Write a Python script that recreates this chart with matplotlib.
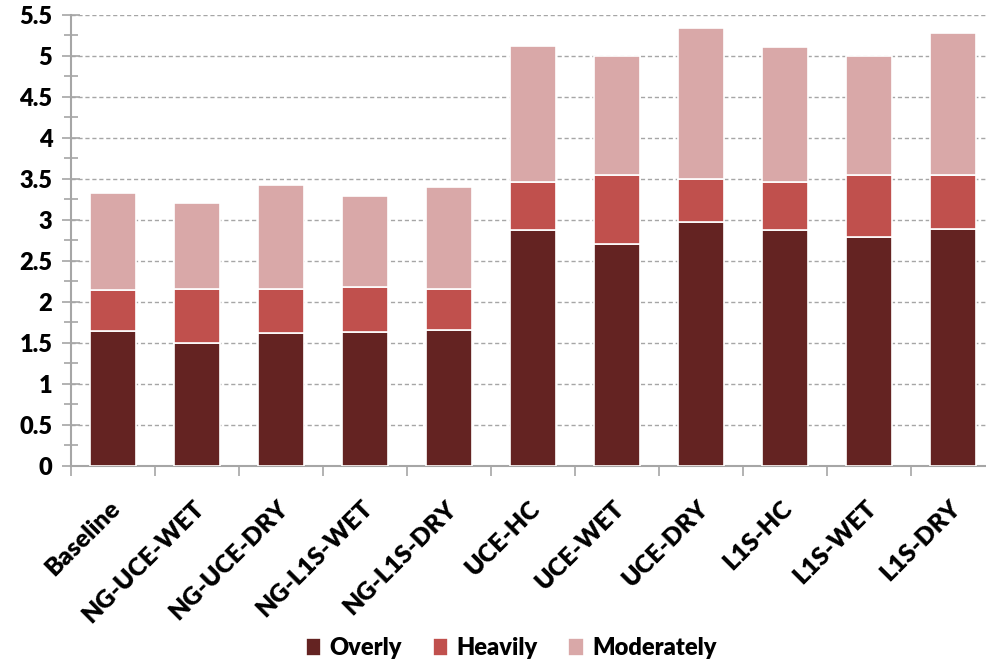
import numpy as np
import matplotlib.pyplot as plt
from matplotlib.ticker import MultipleLocator
from matplotlib.transforms import ScaledTranslation

categories = ["Baseline", "NG-UCE-WET", "NG-UCE-DRY", "NG-L1S-WET", "NG-L1S-DRY",
              "UCE-HC", "UCE-WET", "UCE-DRY", "L1S-HC", "L1S-WET", "L1S-DRY"]
overly = [1.65, 1.50, 1.62, 1.63, 1.66, 2.88, 2.70, 2.97, 2.88, 2.79, 2.89]
heavily = [0.49, 0.66, 0.54, 0.55, 0.50, 0.58, 0.85, 0.53, 0.58, 0.75, 0.65]
moderately = [1.19, 1.05, 1.26, 1.11, 1.24, 1.66, 1.44, 1.84, 1.64, 1.45, 1.73]
ytick_labels = ['0', '0.5', '1', '1.5', '2', '2.5', '3', '3.5', '4', '4.5', '5', '5.5']

colors = ["#642322", "#c0504d", "#d9a8a8"]
names = ["Overly", "Heavily", "Moderately"]

plt.rcParams['font.family'] = ['Lato', 'DejaVu Sans']

fig = plt.figure(figsize=(9.87, 6.61), dpi=100)
ax = fig.add_axes([0.072, 0.295, 0.936, 0.683])

x = np.arange(len(categories))
bottom = np.zeros(len(categories))
handles = []
for vals, c, n in zip([overly, heavily, moderately], colors, names):
    b = ax.bar(x, vals, width=0.555, bottom=bottom, color=c, edgecolor='white',
               linewidth=1.2, label=n, zorder=3)
    handles.append(b)
    bottom += np.array(vals)

ax.set_xlim(-0.5, len(categories) - 0.5)
ax.set_ylim(0, 5.5)
ax.yaxis.set_minor_locator(MultipleLocator(0.25))
ax.set_yticks(np.arange(0, 5.51, 0.5))
ax.set_yticklabels(ytick_labels, fontsize=17, fontweight='heavy')
ax.yaxis.grid(True, which='major', linestyle=(0, (3, 2)), color='#a6a6a6', linewidth=1, zorder=0)

# category labels, rotated, hanging below the axis
ax.set_xticks(x)
ax.set_xticklabels([])
lab_off = ax.get_xaxis_transform() + ScaledTranslation(-0.04, -0.31, fig.dpi_scale_trans)
for xi, name in zip(x, categories):
    ax.text(xi, 0, name, transform=lab_off, rotation=45, ha='right', va='top',
            rotation_mode='anchor', fontsize=18, fontweight='heavy', clip_on=False)

ax.set_xticks(np.arange(-0.5, len(categories), 1), minor=True)
ax.tick_params(axis='x', which='major', length=0)
ax.tick_params(axis='x', which='minor', length=7, direction='out', color='#a6a6a6', width=1.2)
ax.tick_params(axis='y', which='major', length=13, direction='inout', color='#a6a6a6', width=1.2, pad=7)
ax.tick_params(axis='y', which='minor', length=9.5, direction='inout', color='#a6a6a6', width=1.2)

for s in ['top', 'right']:
    ax.spines[s].set_visible(False)
for s in ['left', 'bottom']:
    ax.spines[s].set_color('#a6a6a6')
    ax.spines[s].set_linewidth(1.5)

fig.legend(handles=handles, labels=names, loc='center', bbox_to_anchor=(0.518, 0.02),
           ncol=3, frameon=False, handlelength=0.65, handleheight=0.8, handletextpad=0.35,
           columnspacing=1.3, prop={'size': 17, 'weight': 'heavy'})

fig.savefig('out.png', dpi=100)
